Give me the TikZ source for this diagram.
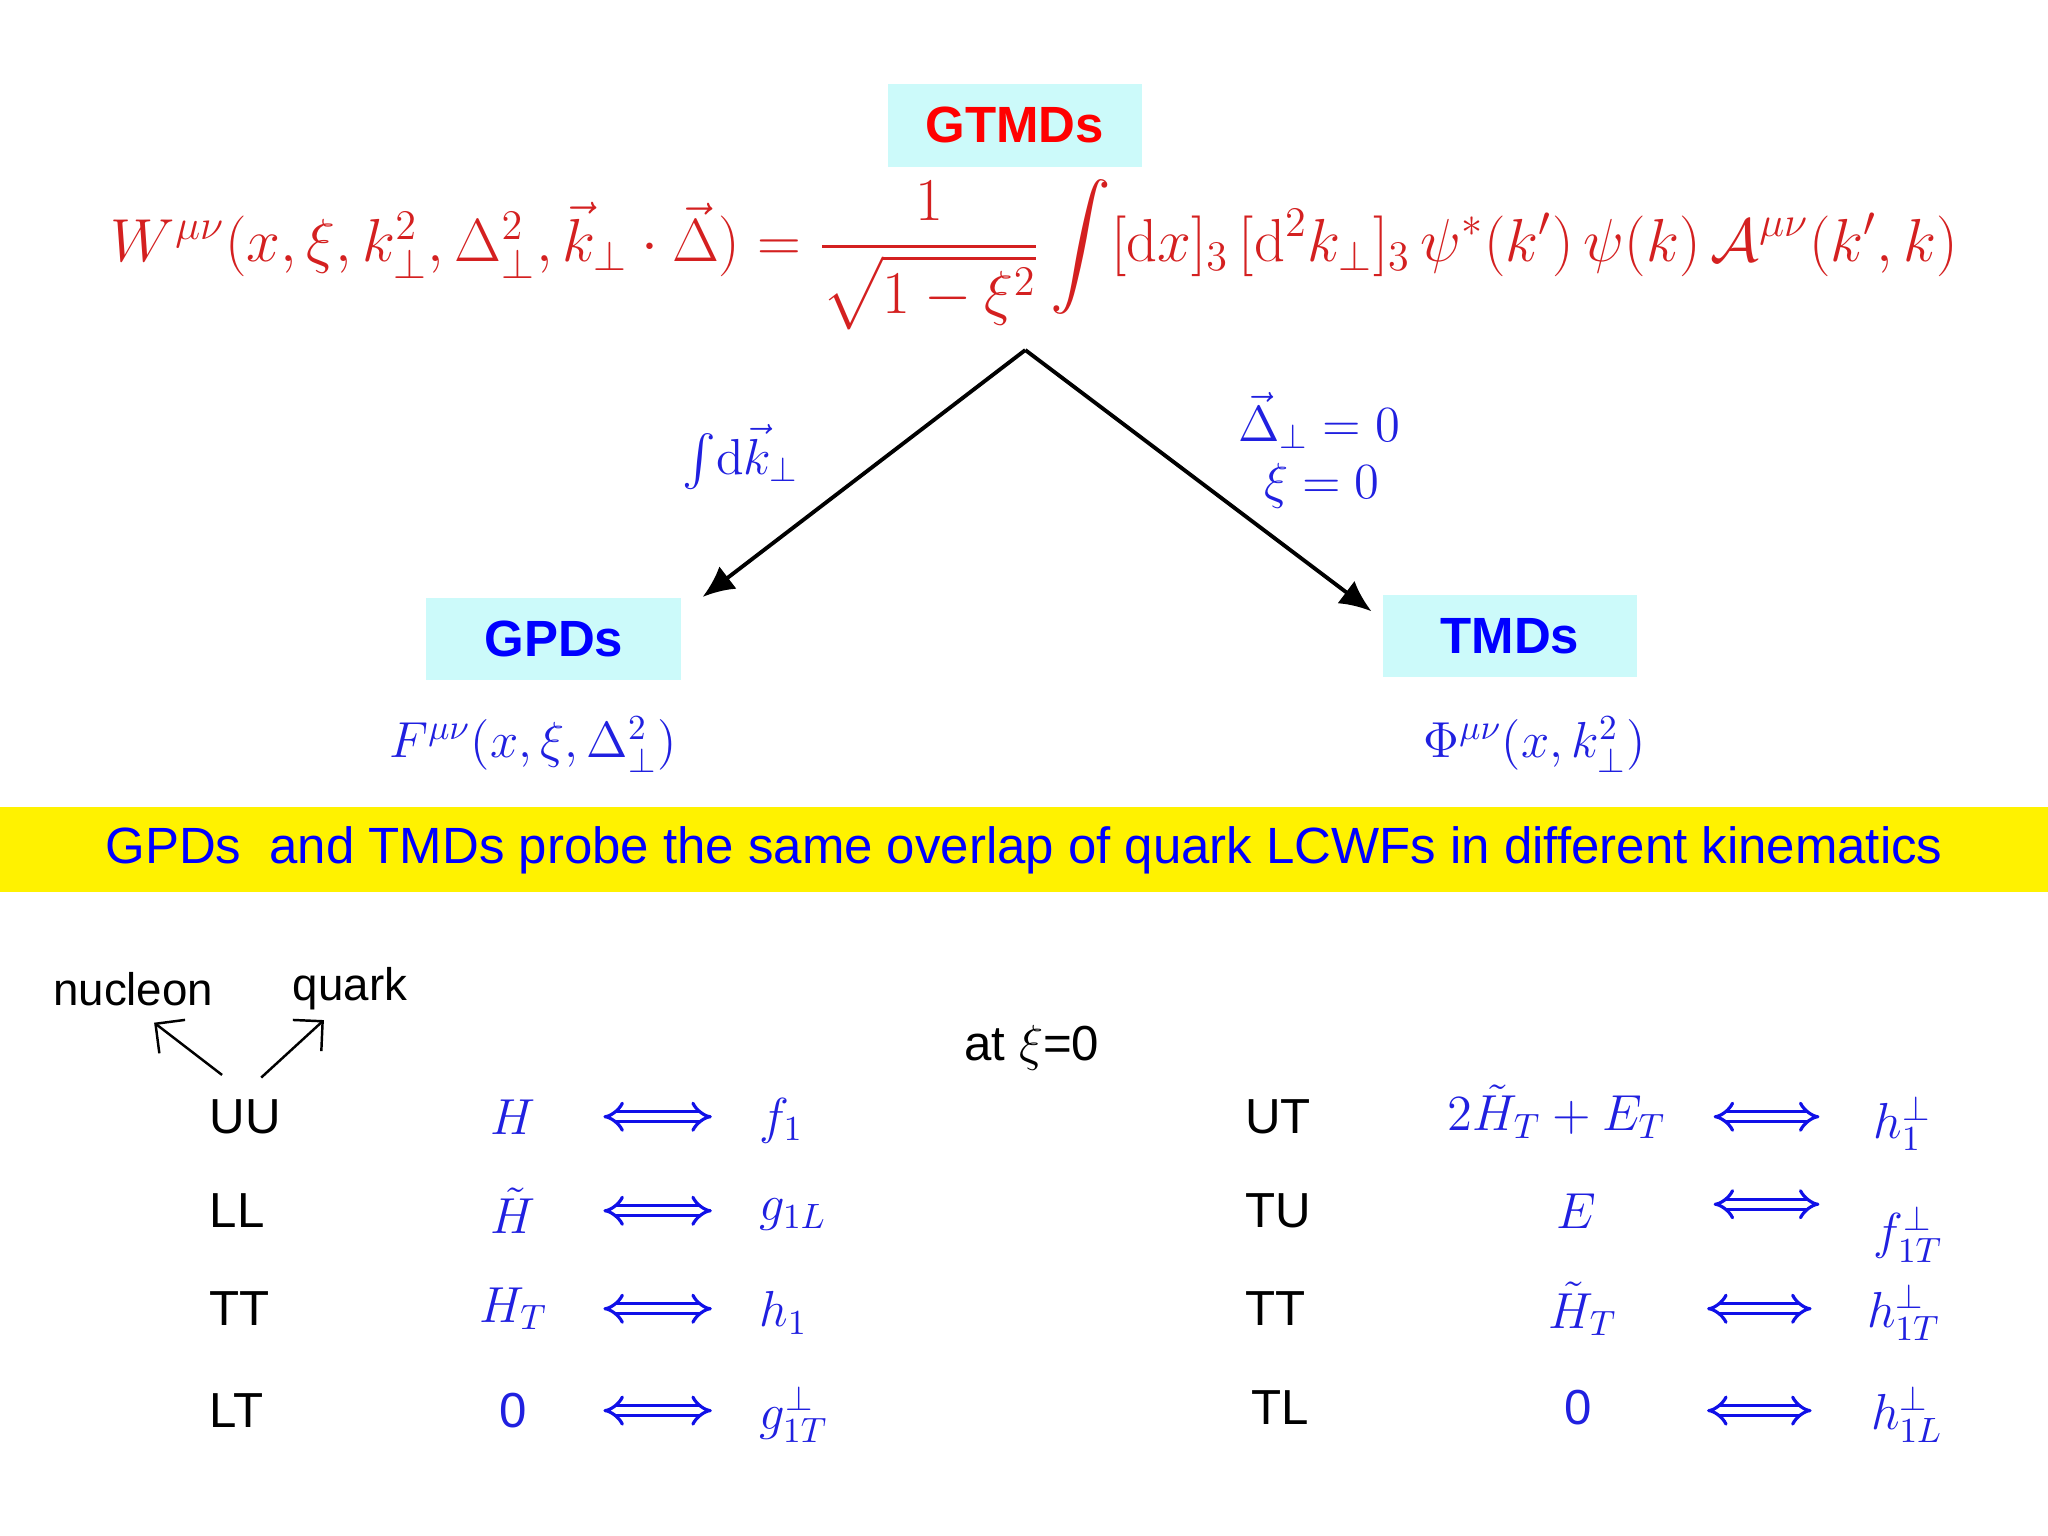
\documentclass[tikz,border=0pt]{standalone}
\usepackage{amsmath}
\usepackage[no-math]{fontspec}
\setmainfont{Liberation Sans}
\usetikzlibrary{arrows.meta}
\definecolor{boxc}{HTML}{CCFAFA}
\definecolor{fred}{HTML}{D42020}
\definecolor{fblue}{HTML}{2020E0}
\definecolor{ttblue}{HTML}{1010E8}
\newlength\unitpx \setlength\unitpx{0.01306cm}
\tikzset{
  titlebox/.style={fill=boxc,minimum width=195\unitpx,minimum height=63\unitpx,inner sep=0pt,font=\fontsize{14.5}{17}\selectfont\bfseries},
  mf/.style={text=fblue,font=\fontsize{14}{17}\selectfont},
  tl/.style={font=\fontsize{14}{17}\selectfont,anchor=west},
  darr/.style={ttblue,double,double distance=2pt,line width=0.9pt,{Implies}-{Implies}},
  karr/.style={black,line width=1.1pt,-{Latex[length=9pt,width=8pt]}},
  sarr/.style={black,line width=0.7pt,-{Straight Barb[length=6pt]}}
}
\begin{document}
\begin{tikzpicture}[x=0.01306cm,y=-0.01306cm]
\useasboundingbox (0,0) rectangle (1568,1176);
\fill[white] (0,0) rectangle (1568,1176);
\node[titlebox,text=red] (gtmd) at (777,96) {GTMDs};
\node[text=fred,font=\fontsize{16.8}{19}\selectfont] (form) at (792,195)
 {$W^{\mu\nu}(x,\xi,k_\perp^2,\Delta_\perp^2,\vec k_\perp\cdot\vec\Delta)=\dfrac{1}{\sqrt{1-\xi^2}}\displaystyle\int[\mathrm{d}x]_3\,[\mathrm{d}^2k_\perp]_3\,\psi^*(k')\,\psi(k)\,\mathcal{A}^{\mu\nu}(k',k)$};
\coordinate (top) at (785,268);
\coordinate (le) at (538,457);
\coordinate (re) at (1050,468);
\draw[karr] (top) -- (le);
\draw[karr] (top) -- (re);
\node[mf] (int) at (567,350) {$\int\!\mathrm{d}\vec k_\perp$};
\node[mf] (d0) at (1010,322) {$\vec\Delta_\perp=0$};
\node[mf] (x0) at (1012,372) {$\xi=0$};
\node[titlebox,text=blue] (gpd) at (424,489) {GPDs};
\node[titlebox,text=blue] (tmd) at (1156,487) {TMDs};
\node[mf] (F) at (408,570) {$F^{\mu\nu}(x,\xi,\Delta_\perp^2)$};
\node[mf] (Phi) at (1175,570) {$\Phi^{\mu\nu}(x,k_\perp^2)$};
\fill[yellow] (0,618) rectangle (1568,683);
\node[text=blue,font=\fontsize{14.5}{17}\selectfont] (band) at (784,651) {GPDs\ \ and TMDs probe the same overlap of quark LCWFs in different kinematics};
\node[font=\fontsize{13}{16}\selectfont] (nuc) at (102,757) {nucleon};
\node[font=\fontsize{13}{16}\selectfont] (qk) at (268,757) {quark};
\coordinate (a1) at (170,823); \coordinate (a2) at (200,825);
\draw[sarr] (a1) -- (118,783);
\draw[sarr] (a2) -- (248,781);
\node[font=\fontsize{14}{17}\selectfont] (at) at (790,802) {at $\xi$=0};
% left table
\foreach \y/\l/\g/\t/\n in {855/UU/H/f_1/1,927/LL/\tilde H/g_{1L}/2,1002/TT/H_T/h_1/3,1080/LT/{\textrm{0}}/g_{1T}^\perp/4}{
  \node[tl] (L\n) at (151,\y) {\l};
  \node[mf] (G\n) at (393,\y) {$\g$};
  \coordinate (la\n) at (462,\y); \coordinate (lb\n) at (545,\y);
  \draw[darr] (la\n) -- (lb\n);
  \node[mf,anchor=west] (T\n) at (572,\y+3) {$\t$};
}
% right table
\node[tl] (R1) at (944,855) {UT};
\node[mf] (RG1) at (1192,851) {$2\tilde H_T+E_T$};
\coordinate (ra1) at (1312,855); \coordinate (rb1) at (1393,855); \draw[darr] (ra1) -- (rb1);
\node[mf,anchor=west] (RT1) at (1425,860) {$h_1^\perp$};
\node[tl] (R2) at (944,927) {TU};
\node[mf] (RG2) at (1207,927) {$E$};
\coordinate (ra2) at (1312,922); \coordinate (rb2) at (1393,922); \draw[darr] (ra2) -- (rb2);
\node[mf,anchor=west] (RT2) at (1425,945) {$f_{1T}^\perp$};
\node[tl] (R3) at (944,1002) {TT};
\node[mf] (RG3) at (1212,1002) {$\tilde H_T$};
\coordinate (ra3) at (1307,1002); \coordinate (rb3) at (1387,1002); \draw[darr] (ra3) -- (rb3);
\node[mf,anchor=west] (RT3) at (1420,1005) {$h_{1T}^\perp$};
\node[tl] (R4) at (949,1078) {TL};
\node[mf] (RG4) at (1208,1078) {0};
\coordinate (ra4) at (1307,1080); \coordinate (rb4) at (1387,1080); \draw[darr] (ra4) -- (rb4);
\node[mf,anchor=west] (RT4) at (1423,1083) {$h_{1L}^\perp$};
\end{tikzpicture}
\end{document}
